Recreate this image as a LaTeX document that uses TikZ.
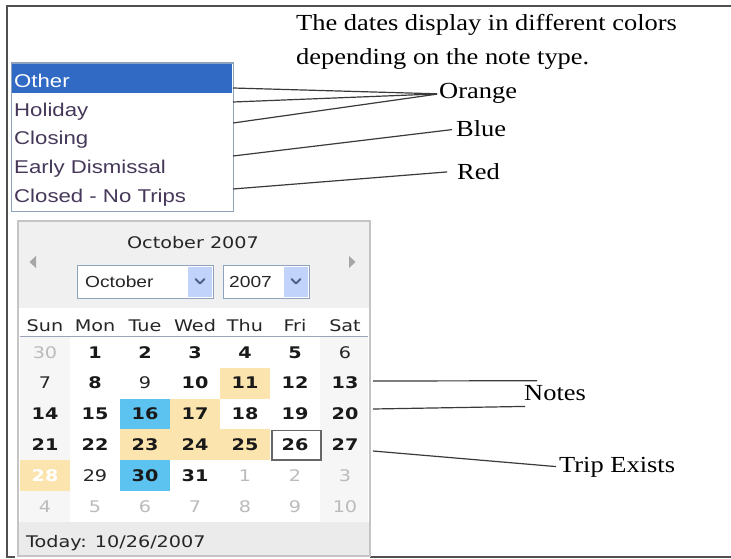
\documentclass[tikz,border=0pt]{standalone}
\usepackage{fontspec}
\setmainfont{Liberation Serif}
\newfontfamily\annfont[FakeStretch=1.15]{Liberation Serif}
\newfontfamily\listfont[FakeStretch=1.2]{Liberation Sans}
\newfontfamily\calfont[FakeStretch=1.2]{DejaVu Sans}
\definecolor{frameline}{HTML}{505050}
\definecolor{leader}{HTML}{3A3A3A}
\definecolor{listborder}{HTML}{8DA3BE}
\definecolor{listsel}{HTML}{316AC5}
\definecolor{listtxt}{HTML}{46385A}
\definecolor{calborder}{HTML}{C4C4C4}
\definecolor{calhead}{HTML}{F0F0F0}
\definecolor{weekend}{HTML}{F6F6F6}
\definecolor{todaybar}{HTML}{EBEBEB}
\definecolor{noteorange}{HTML}{FCE4AE}
\definecolor{noteblue}{HTML}{5CC3F0}
\definecolor{othermonth}{HTML}{BBBBBB}
\definecolor{ddbtn}{HTML}{C1D3FB}
\definecolor{ddchev}{HTML}{4D6185}
\definecolor{rule}{HTML}{9AA4B5}
\begin{document}
\begin{tikzpicture}[x=1pt,y=-1pt,
  ann/.style={font=\annfont\fontsize{23}{28}\selectfont, inner sep=0pt, anchor=base west},
  listitem/.style={font=\listfont\fontsize{18.5}{22}\selectfont, text=listtxt, inner sep=0pt, anchor=base west},
  caltext/.style={font=\calfont\fontsize{16}{19}\selectfont, text=black!85, inner sep=0pt, anchor=base},
  ddtext/.style={font=\listfont\fontsize{16}{19}\selectfont, text=black!85, inner sep=0pt, anchor=base west},
  dayN/.style={font=\calfont\fontsize{16}{19}\selectfont, text=black!85, inner sep=0pt, anchor=base},
  dayB/.style={font=\calfont\bfseries\fontsize{16}{19}\selectfont, text=black!90, inner sep=0pt, anchor=base},
  dayG/.style={font=\calfont\fontsize{16}{19}\selectfont, text=othermonth, inner sep=0pt, anchor=base},
  dayW/.style={font=\calfont\bfseries\fontsize{16}{19}\selectfont, text=white, inner sep=0pt, anchor=base},
  leaderline/.style={draw=leader, line width=1.2pt},
  frameline/.style={draw=frameline, line width=1.4pt},
  ddbox/.style={draw=listborder, fill=white, line width=1pt},
  ddbutton/.style={fill=ddbtn},
  chevron/.style={draw=ddchev, line width=2pt, line cap=round, line join=round}
]
\useasboundingbox (0,0) rectangle (731,559);
\fill[white] (0,0) rectangle (731,559);

% page frame
\draw[frameline] (731,6) -- (7,6) -- (7,557) -- (15,557);
\draw[frameline] (370,557) -- (731,557);

% heading
\node[ann] (head1) at (296,31) {The dates display in different colors};
\node[ann] (head2) at (296,65) {depending on the note type.};

% note type list box
\node[draw=listborder, line width=1.2pt, fill=white, minimum width=222pt, minimum height=148pt, anchor=north west, inner sep=0pt] (listbox) at (10.5,62.5) {};
\fill[listsel] (12,64) rectangle (232,93);
\node[listitem, text=white] (other)   at (14,88)    {Other};
\node[listitem] (holiday) at (14,116.5) {Holiday};
\node[listitem] (closing) at (14,145)   {Closing};
\node[listitem] (early)   at (14,173.5) {Early Dismissal};
\node[listitem] (closed)  at (14,202)   {Closed - No Trips};

% colour labels
\node[ann] (orange) at (439,99)  {Orange};
\node[ann] (blue)   at (456,137) {Blue};
\node[ann] (red)    at (457,179) {Red};

\coordinate (lo1) at (233,88);
\coordinate (lo2) at (233,102);
\coordinate (lo3) at (233,123);
\coordinate (lb)  at (233,156);
\coordinate (lr)  at (233,189);
\draw[leaderline, shorten >=2pt] (lo1) -- (orange.west);
\draw[leaderline, shorten >=2pt] (lo2) -- (orange.west);
\draw[leaderline, shorten >=2pt] (lo3) -- (orange.west);
\draw[leaderline, shorten >=4pt] (lb) -- (blue.west);
\draw[leaderline, shorten >=10pt] (lr) -- (red.west);

% calendar
\fill[white] (18,221) rectangle (370,556);
\fill[calhead] (18,221) rectangle (370,308);
\fill[weekend] (20,337) rectangle (70,522);
\fill[weekend] (320,337) rectangle (368,522);
\fill[todaybar] (19,522) rectangle (369,555);
\draw[calborder, line width=2pt] (18,221) rectangle (370,556);

\node[caltext] (title) at (193,248) {October 2007};
\fill[gray!70] (36,256) -- (36,268) -- (29.5,262) -- cycle;
\fill[gray!70] (349,256) -- (349,268) -- (355.5,262) -- cycle;

% month and year pickers
\node[ddbox, minimum width=136pt, minimum height=33pt, anchor=north west, inner sep=0pt] (monthbox) at (77,265) {};
\fill[ddbutton] (188,267) rectangle (212,296.5);
\draw[chevron] (195.5,279) -- (200,283.5) -- (204.5,279);
\node[ddtext] (month) at (85,287) {October};
\node[ddbox, minimum width=86pt, minimum height=33pt, anchor=north west, inner sep=0pt] (yearbox) at (223,265) {};
\fill[ddbutton] (284,267) rectangle (308,296.5);
\draw[chevron] (291.5,279) -- (296,283.5) -- (300.5,279);
\node[ddtext] (year) at (229,287) {2007};

% weekday names
\foreach \d [count=\c from 0] in {Sun,Mon,Tue,Wed,Thu,Fri,Sat}
  \node[caltext] (wd\c) at ({45+50*\c},331) {\d};
\draw[rule, line width=1.2pt] (20,336.5) -- (368,336.5);

% highlighted days
\foreach \c/\r in {4/1,3/2,2/3,3/3,4/3,0/4}
  \fill[noteorange] ({20+50*\c},{337+30.8*\r}) rectangle ({70+50*\c},{367.8+30.8*\r});
\foreach \c/\r in {2/2,2/4}
  \fill[noteblue] ({20+50*\c},{337+30.8*\r}) rectangle ({70+50*\c},{367.8+30.8*\r});
\draw[gray!80!black, line width=1.3pt] (272,430.5) rectangle (321,460);

% day numbers
\foreach \t/\s [count=\i from 0] in {
  30/G,1/B,2/B,3/B,4/B,5/B,6/N,
  7/N,8/B,9/N,10/B,11/B,12/B,13/B,
  14/B,15/B,16/B,17/B,18/B,19/B,20/B,
  21/B,22/B,23/B,24/B,25/B,26/B,27/B,
  28/W,29/N,30/B,31/B,1/G,2/G,3/G,
  4/G,5/G,6/G,7/G,8/G,9/G,10/G} {
  \pgfmathtruncatemacro\c{mod(\i,7)}
  \pgfmathtruncatemacro\r{div(\i,7)}
  \node[day\s] (d\i) at ({45+50*\c},{358+30.8*\r}) {\t};
}

\node[caltext, anchor=base west] (today) at (26,547) {Today: 10/26/2007};

% notes and trip labels
\node[ann] (notes) at (524,400) {Notes};
\node[ann] (trip)  at (559,472) {Trip Exists};
\coordinate (ln1) at (373,381);
\coordinate (ln2) at (373,409);
\coordinate (lt)  at (373,451);
\draw[leaderline] (ln1) -- ([shift={(13,-4)}]notes.north west);
\draw[leaderline] (ln2) -- ([shift={(1,6)}]notes.south west);
\draw[leaderline, shorten >=3pt] (lt) -- (trip.west);
\end{tikzpicture}
\end{document}
